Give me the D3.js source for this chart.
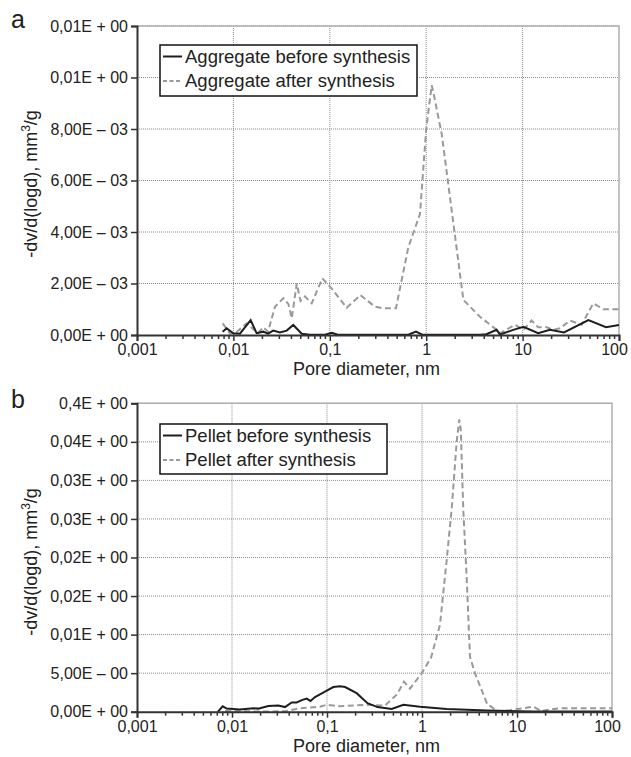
<!DOCTYPE html>
<html><head><meta charset="utf-8">
<script src="https://cdn.jsdelivr.net/npm/d3@7/dist/d3.min.js"></script>
<style>
body{margin:0;background:#fff;}
text{font-family:"Liberation Sans",Arial,sans-serif;fill:#222;}
</style></head>
<body><svg id="c" width="631" height="757"></svg>
<script>
// ---------- DATA ----------
// Panel a: Aggregate
const aBeforeX = [0.00774,0.00851,0.00998,0.0117,0.0151,0.0174,0.0204,0.0229,0.0259,0.0304,0.0357,0.0418,0.0511,0.0622,0.0891,0.1047,0.121,0.533,0.66,0.783,0.91,3.61,4.21,5.38,5.83,8.0,10.2,14.5,19.2,26.9,48.1,73.3,100];
const aBeforeY = [0.00013,0.00026,0.00007,0.00005,0.00058,0.00007,0.00013,0.00005,0.00017,0.0001,0.00017,0.00039,0.00005,0.00001,0.00001,0.00009,0.00001,0.00001,0.00002,0.00013,0.00001,0.00001,0.00003,0.0002,0.00002,0.0002,0.00032,0.00007,0.0002,0.0001,0.00058,0.0003,0.00039];
const aAfterX = [0.00774,0.00923,0.0109,0.01374,0.0180,0.0204,0.0229,0.0270,0.0330,0.0372,0.0403,0.0454,0.0497,0.0553,0.0649,0.0836,0.1047,0.1497,0.208,0.294,0.356,0.486,0.652,0.862,1.0,1.14,1.19,1.45,2.43,3.61,5.38,5.83,8.34,10.2,12.4,14.5,17.8,20.8,24.4,31.0,41.0,54.1,68.7,100];
const aAfterY = [0.00045,0.00005,0.00013,0.00045,0.00007,0.0003,0.00013,0.0011,0.00143,0.0012,0.00065,0.002,0.00132,0.0015,0.00123,0.0022,0.0018,0.00106,0.00155,0.0011,0.00104,0.00104,0.0034,0.0047,0.0080,0.0097,0.0094,0.0078,0.00136,0.00071,0.0002,0.00007,0.0004,0.0002,0.00056,0.0003,0.0003,0.0002,0.00026,0.00056,0.0004,0.00123,0.001,0.001];
// Panel b: Pellet
const bBeforeX = [0.00712,0.00798,0.00879,0.0121,0.0168,0.0189,0.0241,0.0307,0.0361,0.0425,0.048,0.0542,0.0611,0.067,0.0748,0.0952,0.1165,0.137,0.155,0.205,0.267,0.340,0.480,0.636,0.952,1.82,4.8,14.9,100];
const bBeforeY = [0,0.0007,0.0004,0.0003,0.00045,0.0004,0.00074,0.0008,0.0006,0.0012,0.0012,0.0015,0.0017,0.0014,0.0019,0.0026,0.0032,0.0033,0.0032,0.0024,0.0011,0.0006,0.00035,0.0009,0.00065,0.00035,0.00016,0.00003,0.00002];
const bAfterX = [0.00844,0.0197,0.0361,0.052,0.0844,0.0993,0.137,0.257,0.407,0.542,0.646,0.748,0.993,1.245,1.547,1.82,2.05,2.32,2.47,2.56,2.72,2.95,3.2,3.61,4.89,5.46,6.15,8.44,14.9,17.9,28.4,100];
const bAfterY = [0.0001,0.00002,0.00005,0.00045,0.00065,0.0009,0.0007,0.0009,0.0008,0.0022,0.0039,0.003,0.005,0.007,0.0113,0.0197,0.0262,0.0351,0.0379,0.0366,0.0262,0.0175,0.0071,0.005,0.0009,0.0006,0,0.0002,0.00065,0.0001,0.00045,0.00045];

const xTicks = [0.001,0.01,0.1,1,10,100];
const xTickLabels = ["0,001","0,01","0,1","1","10","100"];
const aYTicks = [0,0.002,0.004,0.006,0.008,0.010,0.012];
const aYTickLabels = ["0,00E + 00","2,00E – 03","4,00E – 03","6,00E – 03","8,00E – 03","0,01E + 00","0,01E + 00"];
const bYTicks = [0,0.005,0.010,0.015,0.020,0.025,0.030,0.035,0.040];
const bYTickLabels = ["0,00E + 00","5,00E – 00","0,01E + 00","0,02E + 00","0,02E + 00","0,03E + 00","0,03E + 00","0,04E + 00","0,4E + 00"];
const aLegend = ["Aggregate before synthesis","Aggregate after synthesis"];
const bLegend = ["Pellet before synthesis","Pellet after synthesis"];

// ---------- DRAW ----------
const svg = d3.select("#c");
const solidColor = "#1e1e1e", dashColor = "#999";

function panel(o){
  const g = svg.append("g");
  const x = d3.scaleLog().domain([0.001,100]).range([o.x0,o.x1]);
  const y = d3.scaleLinear().domain([0,o.ymax]).range([o.y1,o.y0]);
  // grid
  g.selectAll(".vg").data(xTicks.slice(1,-1)).enter().append("line")
    .attr("x1",d=>x(d)).attr("x2",d=>x(d)).attr("y1",o.y0).attr("y2",o.y1)
    .attr("stroke","#8a8a8a").attr("stroke-width",1).attr("stroke-dasharray","1,1");
  g.selectAll(".hg").data(o.yTicks.slice(1)).enter().append("line")
    .attr("x1",o.x0).attr("x2",o.x1).attr("y1",d=>y(d)).attr("y2",d=>y(d))
    .attr("stroke","#8a8a8a").attr("stroke-width",1).attr("stroke-dasharray","1,1");
  // top/right border
  g.append("path").attr("d",`M${o.x0},${o.y0}H${o.x1}V${o.y1}`).attr("fill","none")
    .attr("stroke","#b0b0b0").attr("stroke-width",1.5);
  // lines
  const line = d3.line().x(d=>x(d[0])).y(d=>y(d[1]));
  g.append("path").datum(d3.zip(o.afterX,o.afterY)).attr("d",line).attr("fill","none")
    .attr("stroke",dashColor).attr("stroke-width",2).attr("stroke-dasharray","6,3.5");
  g.append("path").datum(d3.zip(o.beforeX,o.beforeY)).attr("d",line).attr("fill","none")
    .attr("stroke",solidColor).attr("stroke-width",2);
  // x axis
  const minor = [];
  for(let e=-3;e<2;e++) for(let k=2;k<=9;k++) minor.push(k*Math.pow(10,e));
  g.selectAll(".mt").data(minor).enter().append("line")
    .attr("x1",d=>x(d)).attr("x2",d=>x(d)).attr("y1",o.y1).attr("y2",o.y1+4)
    .attr("stroke","#333").attr("stroke-width",1.5);
  const xa = g.append("g").attr("transform",`translate(0,${o.y1})`)
    .call(d3.axisBottom(x).tickValues(xTicks).tickFormat((d,i)=>xTickLabels[i]).tickSize(6).tickPadding(3));
  xa.select(".domain").attr("stroke","#333").attr("stroke-width",2);
  xa.selectAll(".tick line").attr("stroke","#333").attr("stroke-width",1.5);
  xa.selectAll("text").attr("font-size",16).attr("fill","#222").attr("font-family","Liberation Sans, Arial, sans-serif")
    .attr("dx",(d,i)=>i===xTicks.length-1?"-5":"0");
  // y axis
  const ya = g.append("g").attr("transform",`translate(${o.x0},0)`)
    .call(d3.axisLeft(y).tickValues(o.yTicks).tickFormat((d,i)=>o.yLabels[i]).tickSize(6).tickPadding(3));
  ya.select(".domain").attr("stroke","#333").attr("stroke-width",2);
  ya.selectAll(".tick line").attr("stroke","#333").attr("stroke-width",1.5);
  ya.selectAll("text").attr("font-size",16).attr("fill","#222").attr("font-family","Liberation Sans, Arial, sans-serif");
  // axis titles
  g.append("text").attr("x",366.5).attr("y",o.y1+40).attr("text-anchor","middle")
    .attr("font-size",18).text("Pore diameter, nm");
  const yt = g.append("text").attr("transform",`translate(37,${o.ycTitle}) rotate(-90)`)
    .attr("text-anchor","middle").attr("font-size",18);
  yt.append("tspan").text("-dv/d(logd), mm");
  yt.append("tspan").attr("font-size",12).attr("dy",-7).text("3");
  yt.append("tspan").attr("dy",7).text("/g");
  // panel letter
  g.append("text").attr("x",11).attr("y",o.letterY).attr("font-size",25).text(o.letter);
  // legend
  const L = o.legend;
  g.append("rect").attr("x",L.x).attr("y",L.y).attr("width",L.w).attr("height",L.h)
    .attr("fill","#fff").attr("stroke","#111").attr("stroke-width",1.5);
  o.legendText.forEach((t,i)=>{
    const by = L.y + 17.5 + i*24.5;
    g.append("line").attr("x1",L.x+3).attr("x2",L.x+22).attr("y1",by-6).attr("y2",by-6)
      .attr("stroke",i==0?solidColor:dashColor).attr("stroke-width",2)
      .attr("stroke-dasharray",i==0?null:"4,2.5");
    g.append("text").attr("x",L.x+25).attr("y",by).attr("font-size",18.5).text(t);
  });
}

panel({x0:137,x1:619,y0:26,y1:335,ymax:0.012,yTicks:aYTicks,yLabels:aYTickLabels,
  beforeX:aBeforeX,beforeY:aBeforeY,afterX:aAfterX,afterY:aAfterY,
  ycTitle:184,letter:"a",letterY:28,legend:{x:160,y:45,w:257,h:51},legendText:aLegend});
panel({x0:137,x1:612,y0:403.3,y1:711.7,ymax:0.04,yTicks:bYTicks,yLabels:bYTickLabels,
  beforeX:bBeforeX,beforeY:bBeforeY,afterX:bAfterX,afterY:bAfterY,
  ycTitle:562,letter:"b",letterY:408,legend:{x:160,y:424,w:227,h:50},legendText:bLegend});
</script></body></html>
